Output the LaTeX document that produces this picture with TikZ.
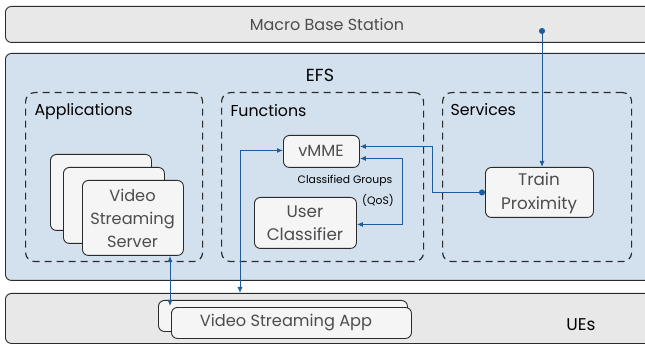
\documentclass[tikz,border=0pt]{standalone}
\usepackage{fontspec}
\setmainfont{Poppins}
\usetikzlibrary{arrows.meta,calc}

\definecolor{barfill}{HTML}{E8E8E8}
\definecolor{efsfill}{HTML}{D3E0EE}
\definecolor{cardfill}{HTML}{F5F5F5}
\definecolor{edge}{HTML}{2B2B2B}
\definecolor{linkblue}{HTML}{1F5C99}
\definecolor{softtext}{HTML}{4D4D4D}

\tikzset{
  bar/.style={draw=edge, line width=0.9pt, rounded corners=6pt, fill=barfill,
              anchor=north west, inner sep=0pt},
  efsbox/.style={bar, fill=efsfill},
  group/.style={draw=edge, line width=1.2pt, dash pattern=on 7pt off 5pt,
                rounded corners=9pt, anchor=north west, inner sep=0pt},
  card/.style={draw=edge, line width=0.9pt, rounded corners=6pt, fill=cardfill,
               anchor=north west, inner sep=0pt},
  cardtext/.style={text=softtext, align=center, font=\fontsize{16.2}{23}\selectfont},
  heading/.style={text=black, anchor=west, font=\fontsize{15.8}{18}\selectfont},
  small/.style={font=\fontsize{10.8}{13}\selectfont},
  link/.style={draw=linkblue, line width=0.9pt},
  twotips/.style={{Latex[length=6pt,width=5pt]}-{Latex[length=6pt,width=5pt]}},
  dottip/.style={{Circle[length=6pt]}-{Latex[length=6pt,width=5pt]}},
}

\begin{document}
\begin{tikzpicture}[x=1pt, y=-1pt]
\useasboundingbox (0,0) rectangle (645,347);
\fill[white] (0,0) rectangle (645,347);

% top and bottom tiers, plus the edge layer between them
\node[bar, minimum width=660pt, minimum height=36pt] (mbs) at (5,6) {};
\node[text=softtext, font=\fontsize{16}{18}\selectfont] (mbslabel) at (327,24) {Macro Base Station};

\node[efsbox, minimum width=660pt, minimum height=227pt] (efs) at (5,53) {};
\node[font=\fontsize{17.5}{20}\selectfont] (efslabel) at (320,75) {EFS};

\node[bar, minimum width=660pt, minimum height=50pt] (ues) at (5,293) {};
\node[font=\fontsize{17}{20}\selectfont] (ueslabel) at (581,325) {UEs};

% dashed groups
\node[group, minimum width=177pt, minimum height=169pt] (apps) at (25,92) {};
\node[heading] (appslabel) at (31,112) {Applications};
\node[group, minimum width=202pt, minimum height=169pt] (funcs) at (221,92) {};
\node[heading] (funcslabel) at (227,111) {Functions};
\node[group, minimum width=189pt, minimum height=169pt] (servs) at (442,92) {};
\node[heading] (servslabel) at (447,110) {Services};

% stacked server instances
\node[card, minimum width=101pt, minimum height=76pt] (vssa) at (50,154) {};
\node[card, minimum width=101pt, minimum height=76pt] (vssb) at (63,167) {};
\node[card, minimum width=101pt, minimum height=75pt] (vssc) at (82,180) {};
\node[cardtext] (vsslabel) at (132.5,218) {Video\\Streaming\\Server};

% functions
\node[card, minimum width=76pt, minimum height=32pt] (vmme) at (283,135) {};
\node[cardtext] (vmmelabel) at (321,151) {vMME};
\node[card, minimum width=102pt, minimum height=51pt] (uc) at (254,197) {};
\node[cardtext, font=\fontsize{16.8}{23}\selectfont] (uclabel) at (305,223) {User\\Classifier};
\node[small] (cglabel) at (345,181) {Classified Groups};
\node[small] (qoslabel) at (378,200) {(QoS)};

% services
\node[card, minimum width=108pt, minimum height=50pt] (tp) at (485,167) {};
\node[cardtext, font=\fontsize{16.8}{24}\selectfont] (tplabel) at (539,193) {Train\\Proximity};

% client application on the UEs
\node[card, minimum width=249pt, minimum height=31pt] (appa) at (158,300) {};
\node[card, minimum width=240pt, minimum height=31pt] (appb) at (171,307) {};
\node[cardtext] (applabel) at (286,323) {Video Streaming App};

% connectors
\coordinate (mbsdot) at (542,28);
\coordinate (uetap) at (240,293);
\coordinate (apptop) at (170,306);

\draw[link, dottip] (mbsdot) -- (mbsdot |- tp.north);
\draw[link, dottip] (tp.west) -- ++(-53,0) |- ([yshift=5pt]vmme.east);
\draw[link, twotips] ([yshift=-7pt]vmme.east) -- ++(43,0) |- ([yshift=-1.5pt]uc.east);
\draw[link, twotips] ([yshift=1pt]vmme.west) -| (uetap);
\draw[link, twotips] (apptop |- vssc.south) -- (apptop);
\end{tikzpicture}
\end{document}
